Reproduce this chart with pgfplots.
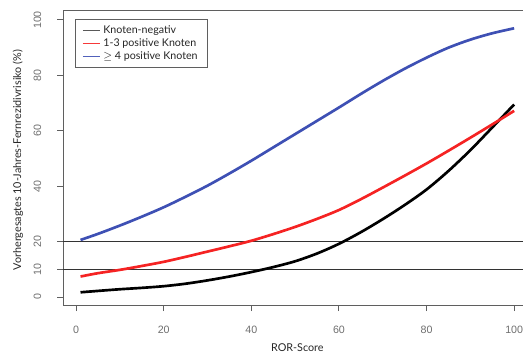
\documentclass[border=0pt]{standalone}
\usepackage{pgfplots}
\pgfplotsset{compat=1.18}
\usepackage{fontspec}
\setmainfont{Lato}
\newfontfamily\tickfont{Liberation Sans}

\definecolor{knneg}{RGB}{0,0,0}
\definecolor{knmid}{RGB}{245,35,35}
\definecolor{knhigh}{RGB}{62,80,180}
\definecolor{framegray}{RGB}{95,95,95}
\definecolor{ticktext}{RGB}{110,110,110}

\begin{document}
\begin{tikzpicture}[x=0.75pt,y=0.75pt]
\path[use as bounding box, clip] (0,0) rectangle (523,354);
\begin{axis}[
  at={(47.25pt,36.75pt)}, anchor=south west,
  scale only axis, width=351.5pt, height=221.25pt,
  xmin=-3, xmax=104, ymin=-2.89, ymax=103.6,
  clip=false,
  axis line style={framegray, line width=0.75pt},
  xtick={0,20,40,60,80,100},
  ytick={0,10,20,40,60,80,100},
  xtick pos=left, ytick pos=left,
  tick align=outside, major tick length=4.5pt,
  tick style={framegray, line width=0.75pt},
  /pgf/number format/assume math mode=true,
  tick label style={font=\tickfont\fontsize{8}{9}\selectfont, text=ticktext},
  xticklabel style={anchor=center, yshift=-14.25pt},
  yticklabel style={anchor=center, xshift=-14.6pt, rotate=90},
  every axis x label/.style={at={(axis description cs:0.5,0)}, anchor=center, yshift=-32.25pt},
  every axis y label/.style={at={(axis description cs:0,0.5)}, anchor=center, xshift=-33.75pt, yshift=-1.9pt, rotate=90},
  label style={font=\fontsize{8.1}{9}\selectfont, text=black!85},
  xlabel={ROR-Score},
  ylabel={Vorhergesagtes 10-Jahres-Fernrezidivrisiko (\%)},
  legend cell align=left,
  legend image code/.code={\draw[#1] (0pt,0pt) -- (12.75pt,0pt);},
  legend style={at={(0.0256,0.9695)}, anchor=north west,
    draw=framegray, line width=0.75pt, fill=white,
    font=\fontsize{8}{9}\selectfont, text=black!85,
    inner xsep=5pt, inner ysep=4pt, row sep=1.2pt,
    nodes={inner xsep=2.25pt, inner ysep=0.6pt}},
]
% reference lines at 10 % and 20 %
\addplot[forget plot, black!80, line width=0.7pt] coordinates {(-3,10) (104,10)};
\addplot[forget plot, black!80, line width=0.7pt] coordinates {(-3,20) (104,20)};

\addlegendimage{black!65, line width=0.9pt}
\addlegendentry{Knoten-negativ}
\addlegendimage{knmid!90, line width=0.9pt}
\addlegendentry{1-3 positive Knoten}
\addlegendimage{knhigh!90, line width=0.9pt}
\addlegendentry{\ensuremath{\geq} 4 positive Knoten}

% node negative
\addplot[forget plot, knneg, line width=2pt, smooth] coordinates {
 (1,1.7) (5,2.2) (10,2.8) (15,3.3) (20,3.9) (25,4.8) (30,6.0) (35,7.4)
 (40,9.0) (45,10.8) (50,12.9) (55,15.7) (60,19.2) (65,23.4) (70,28.1)
 (75,33.2) (80,38.8) (85,45.5) (90,53.0) (95,61.2) (100,69.5)};
% 1-3 positive nodes
\addplot[forget plot, knmid, line width=2pt, smooth] coordinates {
 (1,7.4) (5,8.6) (10,9.8) (15,11.2) (20,12.7) (25,14.5) (30,16.4) (35,18.3)
 (40,20.3) (45,22.7) (50,25.3) (55,28.2) (60,31.4) (65,35.3) (70,39.5)
 (75,43.8) (80,48.2) (85,52.8) (90,57.5) (95,62.3) (100,67.2)};
% 4 or more positive nodes
\addplot[forget plot, knhigh, line width=2pt, smooth] coordinates {
 (1,20.6) (5,22.8) (10,25.8) (15,29.0) (20,32.4) (25,36.2) (30,40.2) (35,44.6)
 (40,49.2) (45,54.0) (50,58.8) (55,63.6) (60,68.4) (65,73.3) (70,78.0)
 (75,82.4) (80,86.4) (85,90.0) (90,92.9) (95,95.2) (100,97.0)};
\end{axis}
\end{tikzpicture}
\end{document}
